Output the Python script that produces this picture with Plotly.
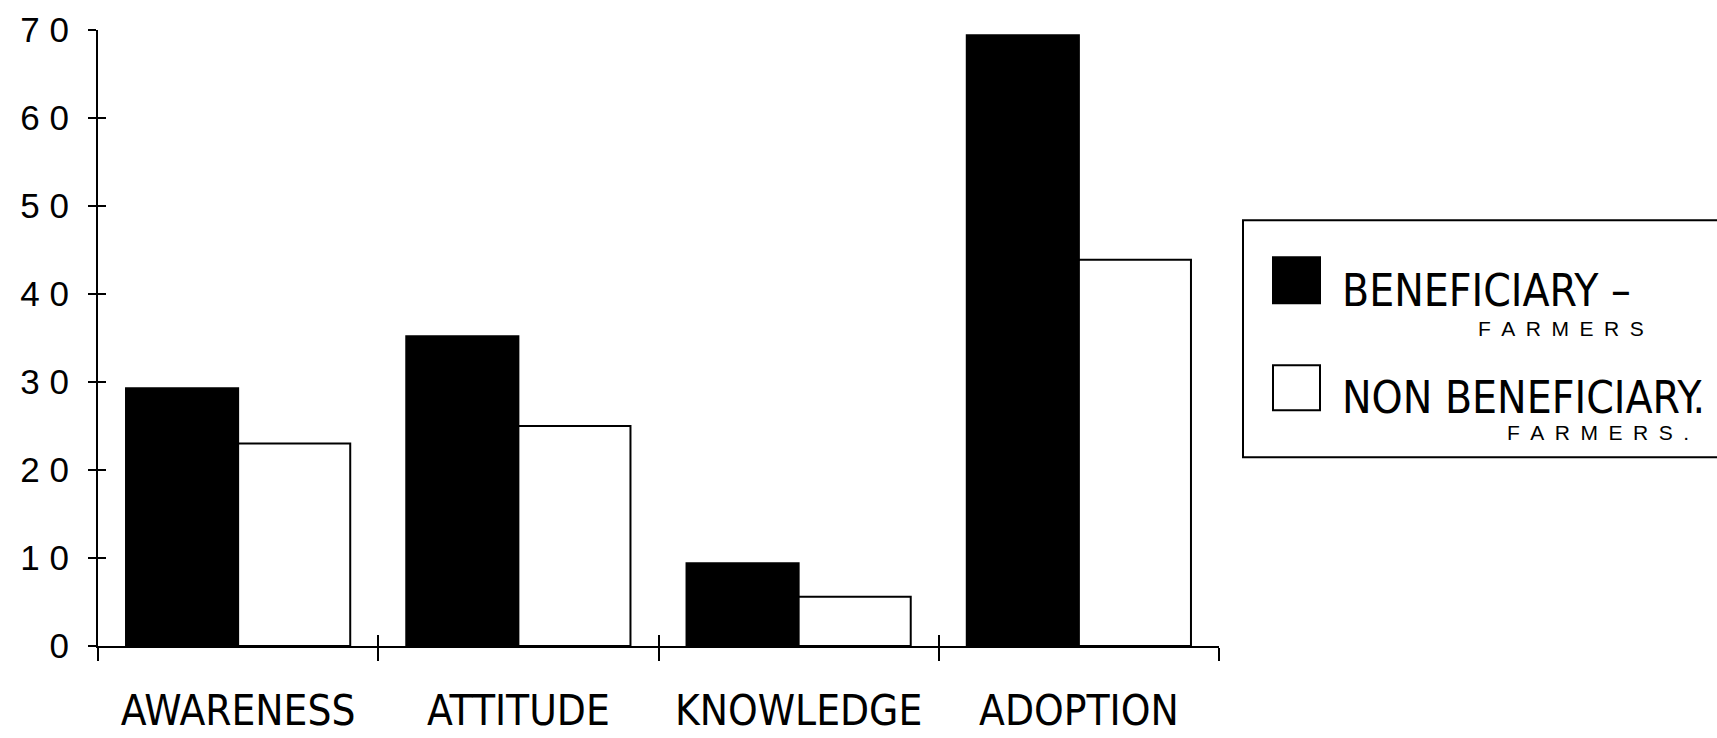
import plotly.graph_objects as go

# Survey results (%) for the two groups of farmers
categories = ["AWARENESS", "ATTITUDE", "KNOWLEDGE", "ADOPTION"]
beneficiary = [29.3, 35.2, 9.4, 69.4]
non_beneficiary = [23.0, 25.0, 5.6, 43.9]

y_ticks = [0, 10, 20, 30, 40, 50, 60, 70]
y_tick_text = [" ".join(str(v)) for v in y_ticks]

W, H = 1717, 738
L, R, T, B = 98, 1219, 29.5, 646  # plot area in pixels

def px(x):
    return (x - L) / (R - L)

def py(y):
    return (B - y) / (B - T)

NARROW = "Liberation Sans Narrow, Arial Narrow, DejaVu Sans Condensed, sans-serif"
REG = "Liberation Sans, Arial, Helvetica, sans-serif"

fig = go.Figure()
fig.add_trace(go.Bar(
    x=categories, y=beneficiary, name="BENEFICIARY",
    marker=dict(color="black", line=dict(color="black", width=2)),
))
fig.add_trace(go.Bar(
    x=categories, y=non_beneficiary, name="NON BENEFICIARY",
    marker=dict(color="white", line=dict(color="black", width=2)),
))
# empty helper trace so the overlay axes (inner tick halves) are rendered
fig.add_trace(go.Scatter(
    x=[None], y=[None], xaxis="x2", yaxis="y2", mode="markers",
    showlegend=False, hoverinfo="skip",
))

fig.update_layout(
    width=W, height=H,
    margin=dict(l=L, r=W - R, t=T, b=H - B, pad=0, autoexpand=False),
    paper_bgcolor="white", plot_bgcolor="white",
    barmode="group", bargap=0.2, bargroupgap=0,
    showlegend=False,
    xaxis=dict(
        type="category", categoryorder="array", categoryarray=categories,
        range=[-0.5, 3.5], tickson="boundaries",
        ticks="outside", ticklen=13, tickwidth=2, tickcolor="black",
        showline=True, linecolor="black", linewidth=2,
        showgrid=False, zeroline=False, automargin=False,
        tickfont=dict(family=NARROW, size=42, color="black"),
        ticklabelstandoff=27,
    ),
    yaxis=dict(
        range=[0, 70], tickvals=y_ticks, ticktext=y_tick_text,
        ticks="outside", ticklen=8, tickwidth=2, tickcolor="black",
        showline=True, linecolor="black", linewidth=2,
        showgrid=False, zeroline=False, automargin=False,
        tickfont=dict(family=REG, size=35, color="black"),
        ticklabelstandoff=12,
    ),
    # inner halves of the crossing tick marks
    xaxis2=dict(
        overlaying="x", anchor="y2", range=[-0.5, 3.5],
        tickvals=[-0.5, 0.5, 1.5, 2.5, 3.5], ticks="inside", ticklen=11,
        tickwidth=2, tickcolor="black", showticklabels=False,
        showline=False, showgrid=False, zeroline=False, automargin=False,
    ),
    yaxis2=dict(
        overlaying="y", anchor="x2", range=[0, 70], side="left",
        tickvals=y_ticks, ticks="inside", ticklen=8, tickwidth=2,
        tickcolor="black", showticklabels=False,
        showline=False, showgrid=False, zeroline=False, automargin=False,
    ),
)

# Legend box with swatches and labels
shapes = [
    dict(type="rect", xref="paper", yref="paper",
         x0=px(1243), x1=px(1740), y0=py(457), y1=py(220),
         line=dict(color="black", width=2), fillcolor="rgba(0,0,0,0)"),
    dict(type="rect", xref="paper", yref="paper",
         x0=px(1273), x1=px(1320), y0=py(303), y1=py(257),
         line=dict(color="black", width=2), fillcolor="black"),
    dict(type="rect", xref="paper", yref="paper",
         x0=px(1273), x1=px(1320), y0=py(410), y1=py(365),
         line=dict(color="black", width=2), fillcolor="white"),
]
fig.update_layout(shapes=shapes)

sp = "\u2002"
annotations = [
    dict(text="BENEFICIARY \u2013", x=px(1340), y=py(290), font=dict(family=NARROW, size=44)),
    dict(text=sp.join("FARMERS"), x=px(1476), y=py(328), font=dict(family=REG, size=21)),
    dict(text="NON BENEFICIARY.", x=px(1340), y=py(397), font=dict(family=NARROW, size=44)),
    dict(text=sp.join("FARMERS") + sp + ".", x=px(1505), y=py(432), font=dict(family=REG, size=21)),
]
for a in annotations:
    a.update(xref="paper", yref="paper", xanchor="left", yanchor="middle",
             showarrow=False)
    a["font"]["color"] = "black"
fig.update_layout(annotations=annotations)

fig.write_html("out.html")
